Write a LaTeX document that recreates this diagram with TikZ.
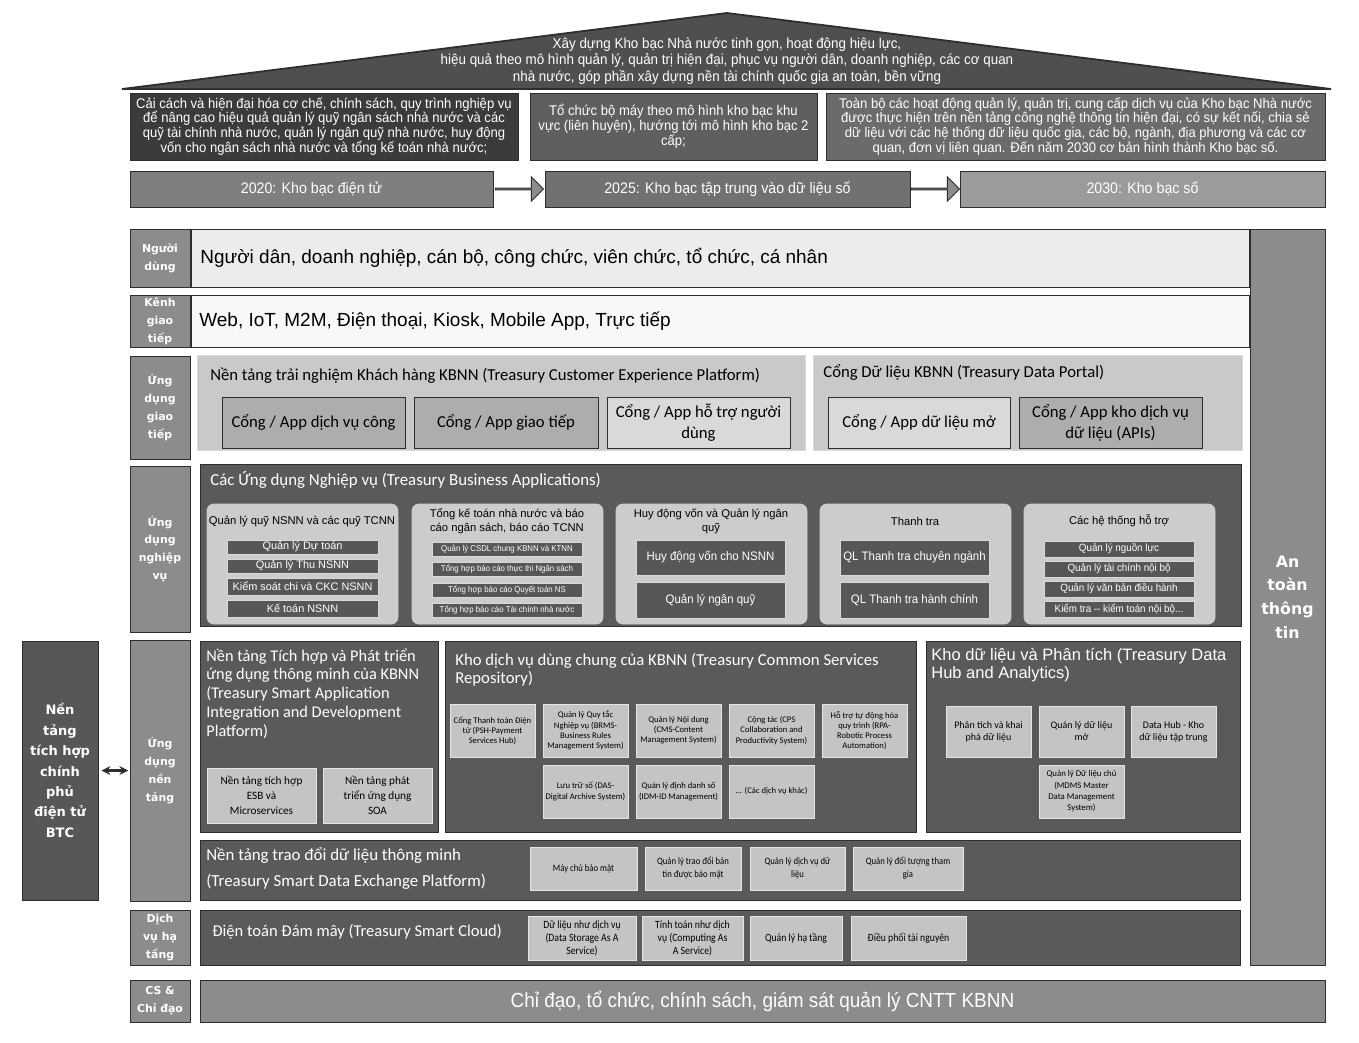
\documentclass[tikz,border=0pt]{standalone}
\usepackage{fontspec}
\setmainfont{Liberation Sans}
\newfontfamily\narrowfont[FakeStretch=0.93]{Liberation Sans}
\newfontfamily\calfont{Carlito}
\newfontfamily\calnarrow[FakeStretch=0.88]{Carlito}
\newfontfamily\verdfont{DejaVu Sans}
\usetikzlibrary{shapes.arrows,arrows.meta}
\definecolor{KbRoof}{HTML}{4F4F4F}
\definecolor{KbEdge}{HTML}{2E2E2E}
\definecolor{KbBlack}{HTML}{3B3B3B}
\definecolor{KbSlate}{HTML}{5F5F5F}
\definecolor{KbStone}{HTML}{6B6B6B}
\definecolor{KbStep}{HTML}{7F7F7F}
\definecolor{KbStepDark}{HTML}{717171}
\definecolor{KbStepLight}{HTML}{9B9B9B}
\definecolor{KbLabel}{HTML}{8C8C8C}
\definecolor{KbPanel}{HTML}{5A5A5A}
\definecolor{KbPale}{HTML}{C9C9C9}
\definecolor{KbCard}{HTML}{ADADAD}
\definecolor{KbCardLight}{HTML}{D9D9D9}
\definecolor{KbGroup}{HTML}{CCCCCC}
\definecolor{KbBar}{HTML}{575757}
\definecolor{KbTile}{HTML}{C4C4C4}
\definecolor{KbUser}{HTML}{ECECEC}
\definecolor{KbChannel}{HTML}{F8F8F8}
\newcommand{\kbsize}[2]{\fontsize{#1}{#2}\selectfont}

\begin{document}
\begin{tikzpicture}[x=0.02cm,y=-0.02cm,
  area/.style args={#1,#2,#3,#4}{at={({(#1+#3)/2},{(#2+#4)/2})},minimum width={(#3-#1)*0.02cm},minimum height={(#4-#2)*0.02cm}},
  box/.style={draw=KbEdge,line width=0.5pt,fill=#1,inner sep=0pt,outer sep=0pt},
  goalbox/.style={box=#1,text=white,align=center,font=\narrowfont\kbsize{8}{8.5}},
  stepbox/.style={box=#1,text=white,font=\narrowfont\kbsize{8.7}{10}},
  steparrow/.style={single arrow,draw=KbEdge,fill=KbLabel,line width=0.5pt,minimum height=0.96cm,minimum width=0.48cm,single arrow head extend=0.12cm,inner sep=0pt},
  layer/.style={box=KbLabel,text=white,align=center,font=\verdfont\bfseries\kbsize{6.2}{10.2}},
  title/.style={anchor=west,inner sep=0pt,font=\calfont\kbsize{9.5}{10.8}},
  card/.style={box=#1,align=center,font=\calfont\kbsize{9.5}{12}},
  group/.style={box=KbGroup,draw=white!80!black,rounded corners=4pt},
  grouptitle/.style={inner sep=0pt,align=center,font=\kbsize{6.4}{7.9}},
  bar/.style={box=KbBar,draw=white!85!black,text=white,align=center},
  tile/.style={box=KbTile,draw=white!90!black,align=center}]
  \path[use as bounding box,fill=white] (0,0) rectangle (1359,1042);

  \filldraw[fill=KbRoof,draw=KbEdge,line width=1pt] (122,89) -- (727,13) -- (1331,89) -- cycle;
  \node[text=white,align=center,font=\narrowfont\kbsize{8.2}{9.4}] (vision) at (727,61) {Xây dựng Kho bạc Nhà nước tinh gọn, hoạt động hiệu lực,\\hiệu quả theo mô hình quản lý, quản trị hiện đại, phục vụ người dân, doanh nghiệp, các cơ quan\\nhà nước, góp phần xây dựng nền tài chính quốc gia an toàn, bền vững};

  \node[goalbox=KbBlack,area={130,93,518,160}] (goal1) {Cải cách và hiện đại hóa cơ chế, chính sách, quy trình nghiệp vụ\\để nâng cao hiệu quả quản lý quỹ ngân sách nhà nước và các\\quỹ tài chính nhà nước, quản lý ngân quỹ nhà nước, huy động\\vốn cho ngân sách nhà nước và tổng kế toán nhà nước;};
  \node[goalbox=KbSlate,area={530,93,817,160}] (goal2) {Tổ chức bộ máy theo mô hình kho bạc khu\\vực (liên huyện), hướng tới mô hình kho bạc 2\\cấp;};
  \node[goalbox=KbStone,area={826,93,1325,160}] (goal3) {Toàn bộ các hoạt động quản lý, quản trị, cung cấp dịch vụ của Kho bạc Nhà nước\\được thực hiện trên nền tảng công nghệ thông tin hiện đại, có sự kết nối, chia sẻ\\dữ liệu với các hệ thống dữ liệu quốc gia, các bộ, ngành, địa phương và các cơ\\quan, đơn vị liên quan. Đến năm 2030 cơ bản hình thành Kho bạc số.};

  \foreach \name/\xa/\xb/\col/\t in {
    t2020/130/493/KbStep/{2020: Kho bạc điện tử},
    t2025/545/910/KbStepDark/{2025: Kho bạc tập trung vào dữ liệu số},
    t2030/960/1325/KbStepLight/{2030: Kho bạc số}}
    \node[stepbox=\col,area={\xa,171,\xb,207}] (\name) {\t};
  \path (t2020.east) -- (t2025.west) node[midway,steparrow] (step1) {};
  \path (t2025.east) -- (t2030.west) node[midway,steparrow] (step2) {};

  \foreach \name/\ya/\yb/\t in {
    lnd/229/287/{Người\\dùng},
    lkenh/295/347/{Kênh\\giao\\tiếp},
    lgt/356/459/{Ứng\\dụng\\giao\\tiếp},
    lnv/466/632/{Ứng\\dụng\\nghiệp\\vụ},
    lnt/640/901/{Ứng\\dụng\\nền\\tảng},
    lht/910/965/{Dịch\\vụ hạ\\tầng},
    lcs/980/1022/{CS \&\\Chỉ đạo}}
    \node[layer,area={130,\ya,190,\yb}] (\name) {\t};
  \node[layer,font=\verdfont\bfseries\kbsize{9}{13.5},area={1250,229,1325,965}] (security) {An\\toàn\\thông\\tin};
  \node[box=KbBar,text=white,align=center,font=\verdfont\bfseries\kbsize{7.4}{11.6},area={22,641,98,900}] (btc) {Nền\\tảng\\tích hợp\\chính\\phủ\\điện tử\\BTC};
  \draw[KbEdge,line width=1.2pt,shorten <=2pt,shorten >=1pt,{Stealth[length=5pt,width=5pt]}-{Stealth[length=5pt,width=5pt]}] (btc) -- (lnt);

  \node[box=KbUser,area={191,229,1249,287}] (users) {};
  \node[title,font=\kbsize{10.8}{13}] (userstext) at (200,258) {Người dân, doanh nghiệp, cán bộ, công chức, viên chức, tổ chức, cá nhân};
  \node[box=KbChannel,area={191,295,1249,347}] (channels) {};
  \node[title,font=\kbsize{10.8}{13}] (channelstext) at (199,321) {Web, IoT, M2M, Điện thoại, Kiosk, Mobile App, Trực tiếp};

  \node[box=KbPale,draw=white!85!black,area={197,355,805,450}] (cxp) {};
  \node[title] (cxptitle) at (210,376) {Nền tảng trải nghiệm Khách hàng KBNN (Treasury Customer Experience Platform)};
  \node[box=KbPale,draw=white!85!black,area={813,355,1242,450}] (portal) {};
  \node[title] (portaltitle) at (823,372) {Cổng Dữ liệu KBNN (Treasury Data Portal)};
  \foreach \name/\xa/\xb/\col/\t in {
    p1/222/405/KbCard/{Cổng / App dịch vụ công},
    p2/414/598/KbCard/{Cổng / App giao tiếp},
    p3/607/790/KbCardLight/{Cổng / App hỗ trợ người\\dùng},
    p4/828/1010/KbCardLight/{Cổng / App dữ liệu mở},
    p5/1019/1202/KbCard/{Cổng / App kho dịch vụ\\dữ liệu (APIs)}}
    \node[card=\col,area={\xa,397,\xb,448}] (\name) {\t};

  \node[box=KbPanel,area={200,464,1241,626}] (biz) {};
  \node[title,text=white,font=\calfont\kbsize{9.6}{10}] (biztitle) at (210,480) {Các Ứng dụng Nghiệp vụ (Treasury Business Applications)};
  \foreach \name/\xa/\t in {
    gA/207/{Quản lý quỹ NSNN và các quỹ TCNN},
    gB/412/{Tổng kế toán nhà nước và báo\\cáo ngân sách, báo cáo TCNN},
    gC/616/{Huy động vốn và Quản lý ngân\\quỹ},
    gD/820/{Thanh tra},
    gE/1024/{Các hệ thống hỗ trợ}}
  {
    \node[group,area={\xa,504,\xa+191,624}] (\name) {};
    \node[grouptitle] (\name t) at (\xa+95,521) {\t};
  }
  \foreach \name/\ya/\yb/\t in {
    a1/540/554/{Quản lý Dự toán},
    a2/559/573/{Quản lý Thu  NSNN},
    a3/578/595/{Kiểm soát chi và CKC NSNN},
    a4/600/617/{Kế toán  NSNN}}
    \node[bar,font=\kbsize{6.2}{7},area={227,\ya,378,\yb}] (\name) {\t};
  \foreach \name/\ya/\t in {
    b1/542/{Quản lý CSDL chung KBNN và KTNN},
    b2/562/{Tổng hợp báo cáo thực thi Ngân sách},
    b3/583/{Tổng hợp báo cáo Quyết toán NS},
    b4/603/{Tổng hợp báo cáo Tài chính nhà nước}}
    \node[bar,font=\narrowfont\kbsize{4.8}{6},area={432,\ya,582,\ya+14}] (\name) {\t};
  \foreach \name/\xa/\ya/\yb/\t in {
    c1/636/540/575/{Huy động vốn cho NSNN},
    c2/636/582/618/{Quản lý ngân quỹ},
    d1/840/540/575/{QL Thanh tra chuyên ngành},
    d2/840/582/618/{QL Thanh tra hành chính}}
    \node[bar,font=\narrowfont\kbsize{7}{8},area={\xa,\ya,\xa+149,\yb}] (\name) {\t};
  \foreach \name/\ya/\t in {
    e1/541/{Quản lý nguồn lực},
    e2/561/{Quản lý tài chính nội bộ},
    e3/581/{Quản lý văn bản điều hành},
    e4/601/{Kiểm tra -- kiểm toán nội bộ...}}
    \node[bar,font=\narrowfont\kbsize{6}{7},area={1044,\ya,1194,\ya+16}] (\name) {\t};

  \node[box=KbPanel,area={200,641,438,832}] (sap) {};
  \node[title,anchor=north west,align=left,text=white,font=\calfont\kbsize{9.3}{10.8}] (saptitle) at (206,648) {Nền tảng Tích hợp và Phát triển\\ứng dụng thông minh của KBNN\\(Treasury Smart Application\\Integration and Development\\Platform)};
  \foreach \name/\xa/\t in {
    s1/207/{Nền tảng tích hợp\\ESB và\\Microservices},
    s2/323/{Nền tảng phát\\triển ứng dụng\\SOA}}
    \node[tile,font=\calfont\kbsize{6.4}{8.5},area={\xa,768,\xa+109,823}] (\name) {\t};

  \node[box=KbPanel,area={445,641,916,832}] (csr) {};
  \node[title,anchor=north west,align=left,text=white,font=\calfont\kbsize{9.5}{10.2}] (csrtitle) at (455,653) {Kho dịch vụ dùng chung của KBNN (Treasury Common Services\\Repository)};
  \foreach \name/\xa/\ya/\t in {
    r1/450/704/{Cổng Thanh toán Điện\\tử (PSH-Payment\\Services Hub)},
    r2/543/704/{Quản lý Quy tắc\\Nghiệp vụ (BRMS-\\Business Rules\\Management System)},
    r3/636/704/{Quản lý Nội dung\\(CMS-Content\\Management System)},
    r4/729/704/{Cộng tác (CPS\\Collaboration and\\Productivity System)},
    r5/822/704/{Hỗ trợ tự động hóa\\quy trình (RPA-\\Robotic Process\\Automation)},
    r6/543/765/{Lưu trữ số (DAS-\\Digital Archive System)},
    r7/636/765/{Quản lý định danh số\\(IDM-ID Management)},
    r8/729/765/{... (Các dịch vụ khác)}}
    \node[tile,font=\calfont\kbsize{4.9}{5.8},area={\xa,\ya,\xa+85,\ya+53}] (\name) {\t};

  \node[box=KbPanel,area={926,641,1240,832}] (hub) {};
  \node[title,anchor=north west,align=left,text=white,font=\kbsize{9.4}{10.2}] (hubtitle) at (931,648) {Kho dữ liệu và Phân tích (Treasury Data\\Hub and Analytics)};
  \foreach \name/\xa/\t in {
    h1/946/{Phân tích và khai\\phá dữ liệu},
    h2/1039/{Quản lý dữ liệu\\mở},
    h3/1131/{Data Hub - Kho\\dữ liệu tập trung}}
    \node[tile,font=\calfont\kbsize{5.7}{6.8},area={\xa,706,\xa+85,757}] (\name) {\t};
  \node[tile,font=\calfont\kbsize{5}{6.4},area={1039,765,1124,818}] (h4) {Quản lý Dữ liệu chủ\\(MDMS Master\\Data Management\\System)};

  \node[box=KbPanel,area={200,840,1240,900}] (xch) {};
  \node[title,align=left,text=white,font=\calfont\kbsize{9.6}{14.7}] (xchtitle) at (206,868) {Nền tảng trao đổi dữ liệu thông minh\\(Treasury Smart Data Exchange Platform)};
  \foreach \name/\xa/\xb/\t in {
    x1/530/637/{Máy chủ bảo mật},
    x2/645/741/{Quản lý trao đổi bản\\tin được bảo mật},
    x3/750/845/{Quản lý dịch vụ dữ\\liệu},
    x4/853/963/{Quản lý đối tượng tham\\gia}}
    \node[tile,font=\calnarrow\kbsize{5.6}{7.4},area={\xa,847,\xb,890}] (\name) {\t};

  \node[box=KbPanel,area={200,910,1240,965}] (cloud) {};
  \node[title,text=white,font=\calfont\kbsize{9.4}{10}] (cloudtitle) at (212,932) {Điện toán Đám mây (Treasury Smart Cloud)};
  \foreach \name/\xa/\xb/\t in {
    k1/528/636/{Dữ liệu như dịch vụ\\(Data Storage As A\\Service)},
    k2/642/743/{Tính toán như dịch\\vụ (Computing As\\A Service)},
    k3/750/842/{Quản lý hạ tầng},
    k4/851/966/{Điều phối tài nguyên}}
    \node[tile,font=\calnarrow\kbsize{6.3}{7.4},area={\xa,916,\xb,960}] (\name) {\t};

  \node[box=KbLabel,text=white,font=\narrowfont\kbsize{11.6}{13},area={200,980,1325,1022}] (policy) {Chỉ đạo, tổ chức, chính sách, giám sát quản lý CNTT KBNN};
\end{tikzpicture}
\end{document}
